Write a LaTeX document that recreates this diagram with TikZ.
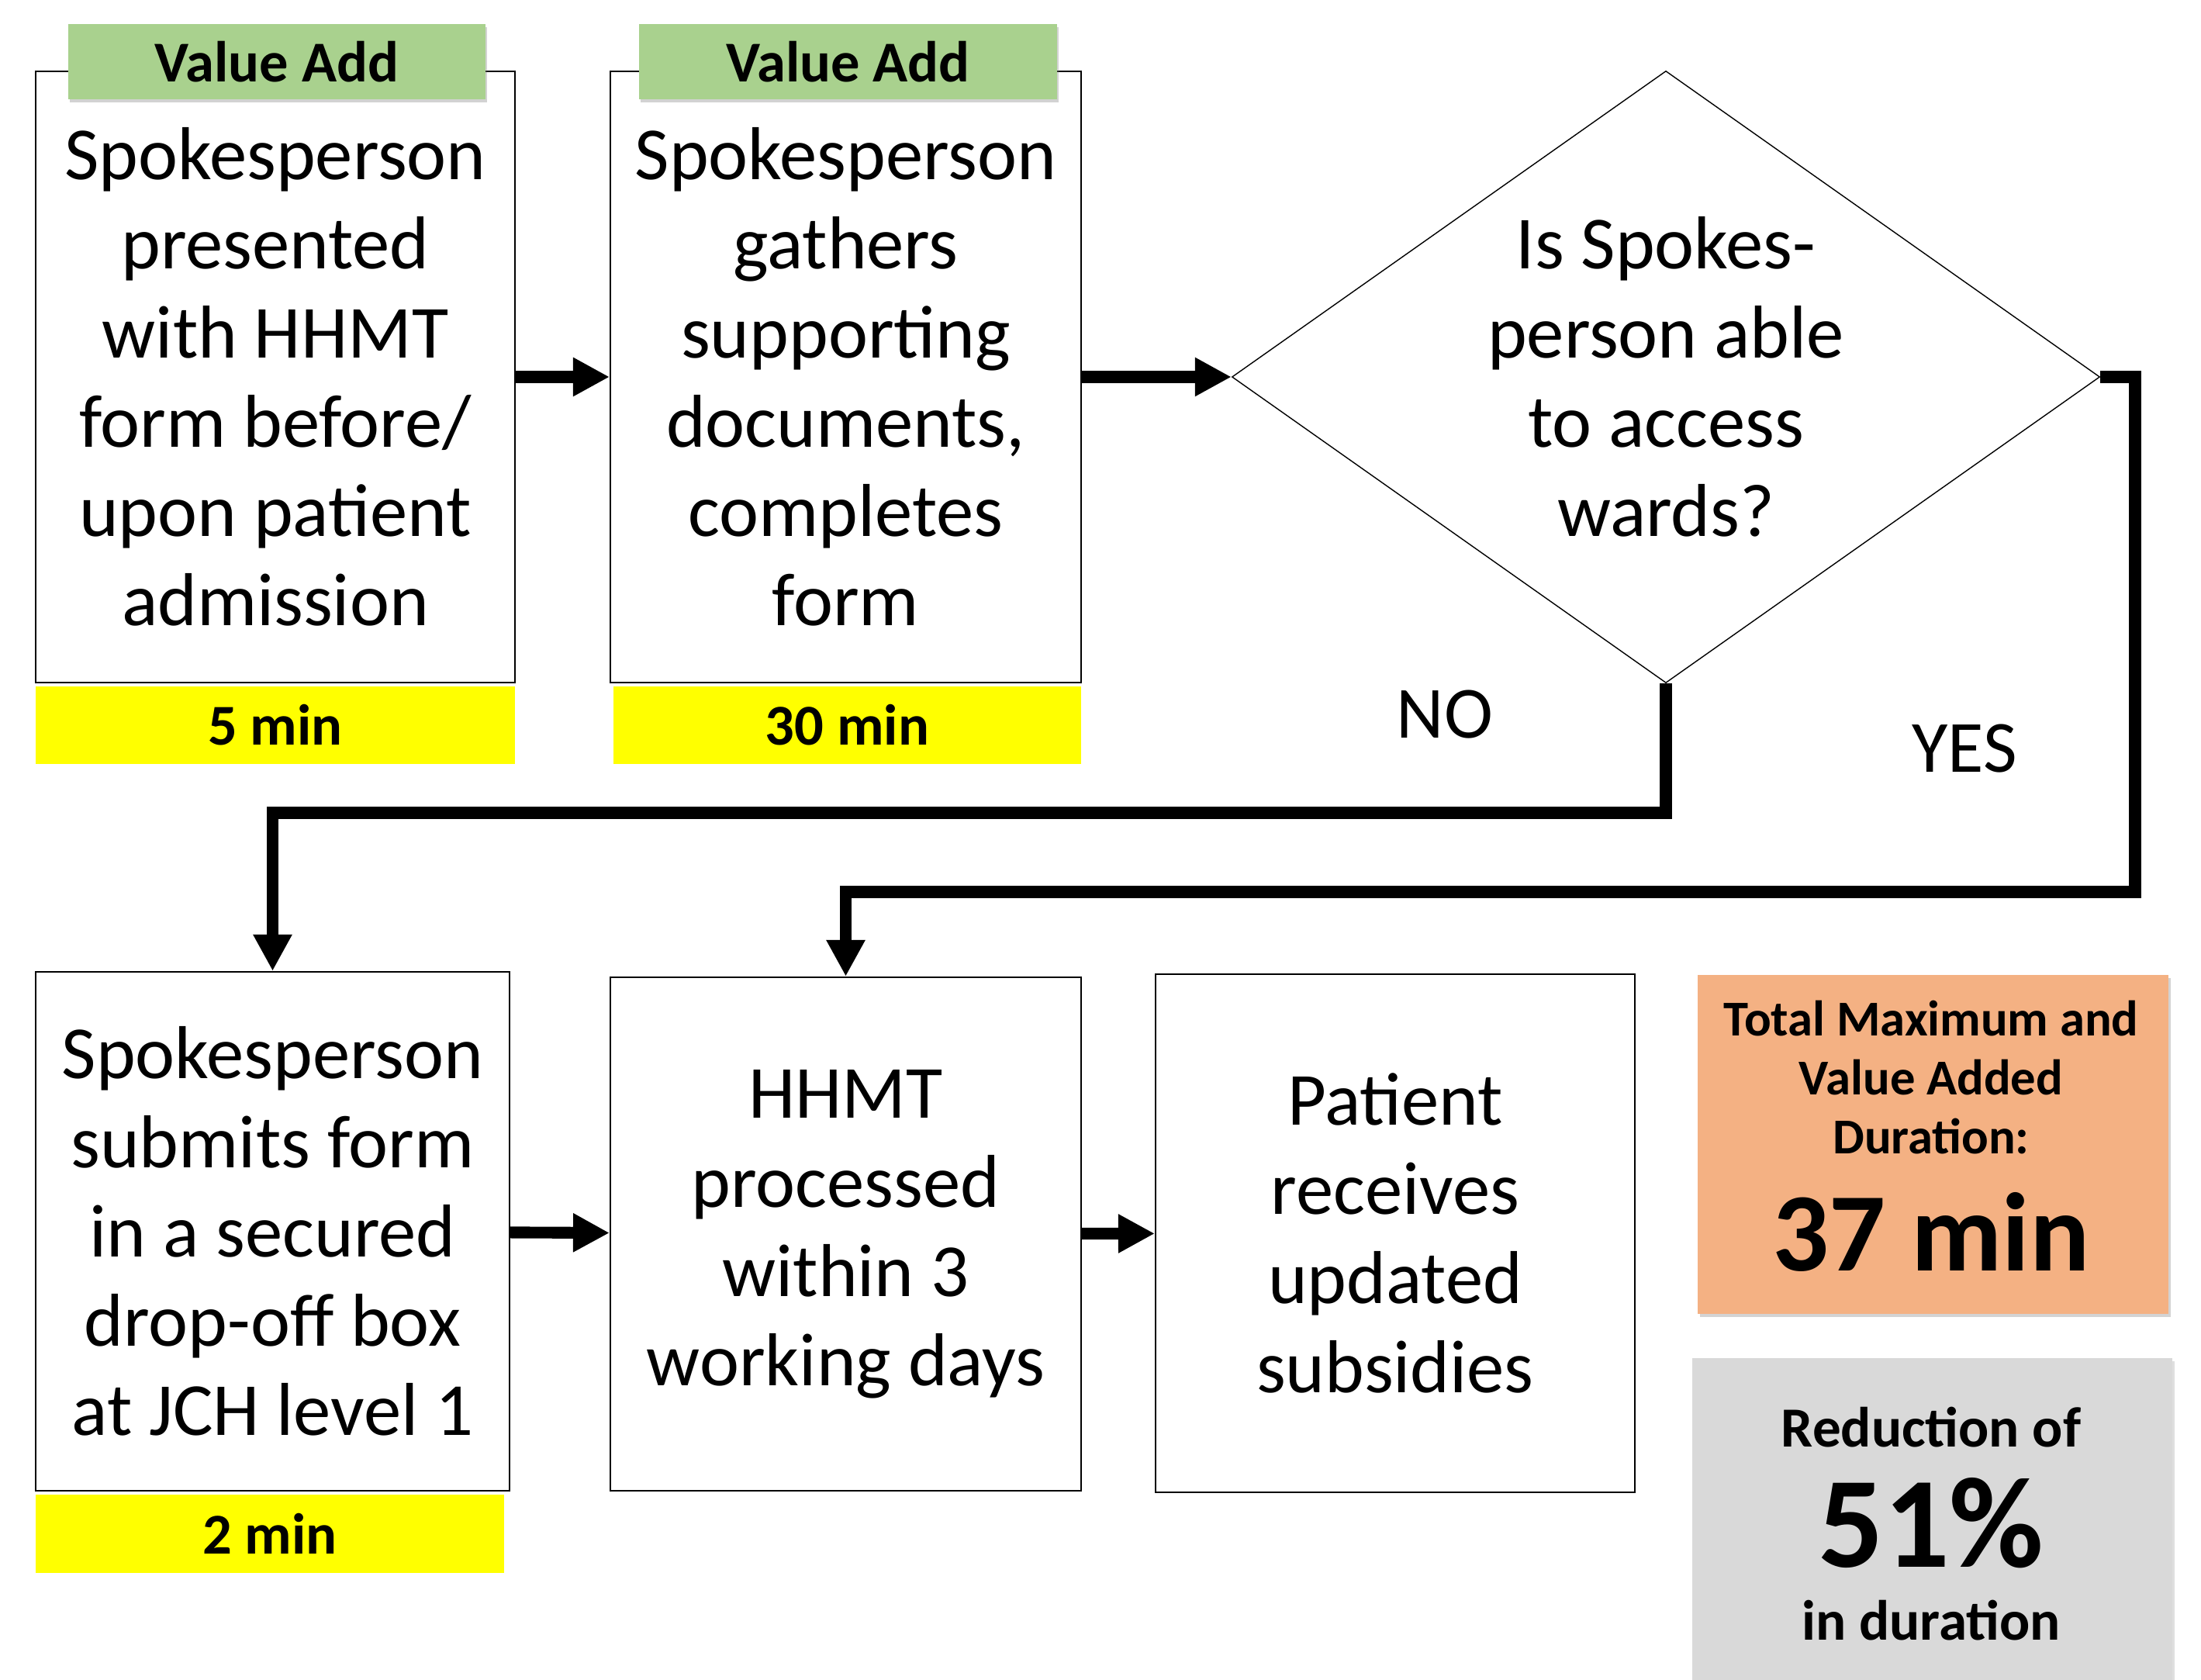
\documentclass[tikz,border=0pt]{standalone}
\usepackage{fontspec}
\setmainfont{Carlito}
\usepackage{tikz}
\usetikzlibrary{shapes.geometric,arrows.meta,shadows}

\definecolor{tagGreen}{HTML}{A9D18E}
\definecolor{timeYellow}{HTML}{FFFF00}
\definecolor{totalOrange}{HTML}{F4B183}
\definecolor{reduceGray}{HTML}{D9D9D9}

\begin{document}
\begin{tikzpicture}[
    stepbox/.style={draw, line width=0.6pt, fill=white, align=center, inner sep=0pt,
        font=\fontsize{27.5}{32.7}\selectfont},
    valuetag/.style={fill=tagGreen, inner sep=0pt, minimum height=0.97cm,
        drop shadow={shadow xshift=0.02cm, shadow yshift=-0.04cm, opacity=0.35},
        font=\bfseries\fontsize{21.2}{24}\selectfont},
    timebar/.style={fill=timeYellow, inner sep=0pt, minimum height=1cm,
        font=\bfseries\fontsize{21.2}{24}\selectfont},
    flow/.style={line width=4.3pt, -{Triangle[length=4.7mm,width=4.7mm]}},
    answer/.style={font=\fontsize{27}{32.7}\selectfont}
]
    \useasboundingbox (0,0) rectangle (28.38,21.66);

    % Top row of steps
    \node[stepbox, minimum width=6.18cm, minimum height=7.88cm] (present) at (3.55,16.80)
        {Spokesperson\\presented\\with HHMT\\form before/\\upon patient\\admission};
    \node[stepbox, minimum width=6.07cm, minimum height=7.88cm] (gather) at (10.905,16.80)
        {Spokesperson\\gathers\\supporting\\documents,\\completes\\form};
    \node[diamond, draw, line width=0.4pt, aspect=1.42, inner sep=0pt,
        minimum width=11.19cm, minimum height=7.89cm, align=center,
        font=\fontsize{27.5}{32.7}\selectfont] (access) at (21.48,16.80)
        {Is Spokes-\\person able\\to access\\wards?};

    % Value add tags and times
    \node[valuetag, minimum width=5.38cm] (tagpresent) at (3.57,20.865) {Value Add};
    \node[valuetag, minimum width=5.39cm] (taggather) at (10.935,20.865) {Value Add};
    \node[timebar, minimum width=6.18cm] (timepresent) at (3.55,12.31) {5 min};
    \node[timebar, minimum width=6.03cm] (timegather) at (10.925,12.31) {30 min};

    % Bottom row of steps
    \node[stepbox, minimum width=6.11cm, minimum height=6.69cm] (submit) at (3.515,5.785)
        {Spokesperson\\submits form\\in a secured\\drop-off box\\at JCH level 1};
    \node[timebar, minimum width=6.04cm, minimum height=1.01cm] (timesubmit) at (3.48,1.885) {2 min};
    \node[stepbox, minimum width=6.07cm, minimum height=6.62cm] (process) at (10.905,5.75)
        {HHMT\\processed\\within 3\\working days};
    \node[stepbox, minimum width=6.18cm, minimum height=6.68cm] (receive) at (17.99,5.76)
        {Patient\\receives\\updated\\subsidies};

    % Summary boxes
    \node[fill=totalOrange, minimum width=6.07cm, minimum height=4.37cm, inner sep=0pt,
        drop shadow={shadow xshift=0.03cm, shadow yshift=-0.04cm, opacity=0.35}] (total) at (24.925,6.905) {};
    \node[align=center, font=\bfseries\fontsize{18.4}{21.6}\selectfont] (totallab) at (24.90,7.77)
        {Total Maximum and\\Value Added\\Duration:};
    \node[anchor=base, font=\bfseries\fontsize{41}{48}\selectfont] (totalval) at (24.90,5.27) {37 min};

    \node[fill=reduceGray, minimum width=6.19cm, minimum height=4.45cm, inner sep=0pt,
        drop shadow={shadow xshift=0.03cm, shadow yshift=-0.04cm, opacity=0.25}] (reduce) at (24.915,1.925) {};
    \node[anchor=base, font=\bfseries\fontsize{20.8}{24}\selectfont] (reducelab) at (24.90,3.00) {Reduction of};
    \node[anchor=base, font=\bfseries\fontsize{47.5}{52}\selectfont] (reduceval) at (24.90,1.45) {51\%};
    \node[anchor=base, font=\bfseries\fontsize{20.8}{24}\selectfont] (reducedur) at (24.90,0.51) {in duration};

    % Connectors
    \draw[flow] (present) -- (gather);
    \draw[flow] (gather) -- (access);
    \coordinate (noturn) at (21.48,11.18);
    \draw[flow] (access.south) -- (noturn) -| (submit.north);
    \coordinate (yesturn) at (27.53,10.16);
    \draw[flow] (access.east) -| (yesturn) -| (process.north);
    \draw[flow] (submit) -- (process);
    \draw[flow] (process) -- (receive);

    % Answers
    \node[answer] (nolab) at (18.63,12.45) {NO};
    \node[answer] (yeslab) at (25.33,12.01) {YES};
\end{tikzpicture}
\end{document}
